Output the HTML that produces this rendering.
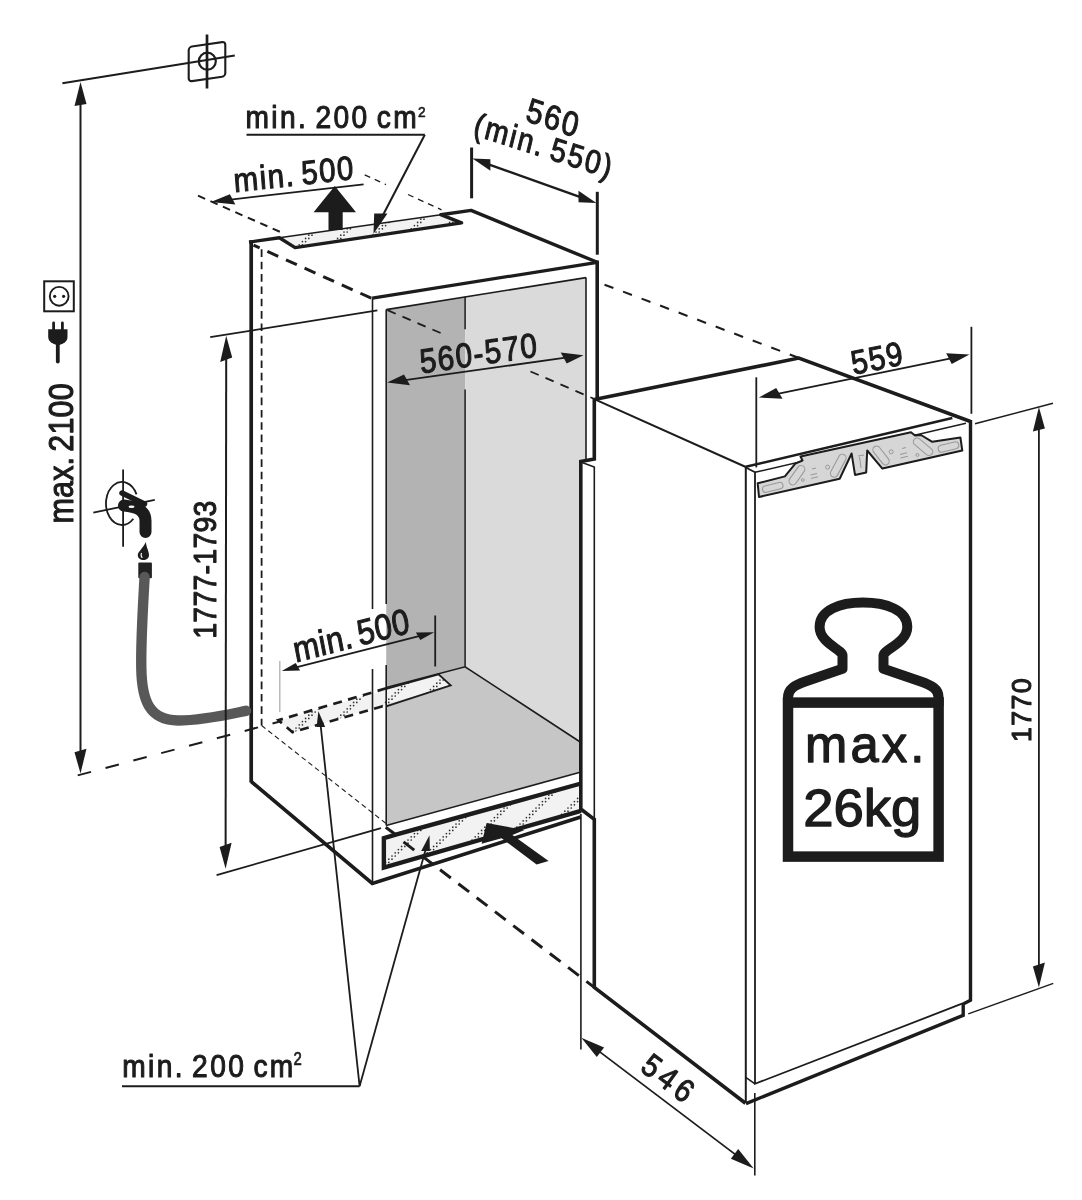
<!DOCTYPE html>
<html><head><meta charset="utf-8"><title>Installation diagram</title>
<style>
html,body{margin:0;padding:0;background:#fff;}
svg{display:block;filter:grayscale(1);}
text{font-family:"Liberation Sans", sans-serif; fill:#1c1c1c;}
</style></head>
<body>
<svg width="1082" height="1200" viewBox="0 0 1082 1200">
<defs>
<pattern id="dots" patternUnits="userSpaceOnUse" width="32" height="32">
<rect width="32" height="32" fill="#f2f2f2"/>
<g fill="#333"><circle cx="1.6" cy="30.4" r="0.85"/><circle cx="4.8" cy="30.4" r="0.85"/><circle cx="4.8" cy="27.2" r="0.85"/><circle cx="8.0" cy="27.2" r="0.85"/><circle cx="8.0" cy="24.0" r="0.85"/><circle cx="11.2" cy="24.0" r="0.85"/><circle cx="11.2" cy="20.8" r="0.85"/><circle cx="14.4" cy="20.8" r="0.85"/><circle cx="14.4" cy="17.6" r="0.85"/><circle cx="17.6" cy="17.6" r="0.85"/><circle cx="17.6" cy="14.4" r="0.85"/><circle cx="20.8" cy="14.4" r="0.85"/><circle cx="20.8" cy="11.2" r="0.85"/><circle cx="24.0" cy="11.2" r="0.85"/><circle cx="24.0" cy="8.0" r="0.85"/><circle cx="27.2" cy="8.0" r="0.85"/><circle cx="27.2" cy="4.8" r="0.85"/><circle cx="30.4" cy="4.8" r="0.85"/><circle cx="30.4" cy="1.6" r="0.85"/><circle cx="1.6" cy="1.6" r="0.85"/></g>
</pattern>
</defs>
<rect x="0" y="0" width="1082" height="1200" fill="#fff"/>
<polygon points="386.4,309.6 465.1,296.9 465.1,666.8 386.2,687.5" fill="#b3b3b3" stroke="none" stroke-width="0" stroke-linejoin="miter"/>
<polygon points="465.1,296.9 586,277.6 586,462 581,462 581,742.5 465.1,666.8" fill="#dadada" stroke="none" stroke-width="0" stroke-linejoin="miter"/>
<polygon points="386.2,687.5 465.1,666.8 581,742.5 581,772 386.2,825.6" fill="#c6c6c6" stroke="none" stroke-width="0" stroke-linejoin="miter"/>
<polygon points="581,462 586,462 586,742.5 581,742.5" fill="#dadada" stroke="none" stroke-width="0" stroke-linejoin="miter"/>
<polygon points="279.4,237.8 440.8,214.7 461.6,222.9 295.1,247.6" fill="url(#dots)" stroke="none" stroke-width="0" stroke-linejoin="miter"/>
<polygon points="279,720.5 438.5,674.3 450.7,685.4 292.5,732.5" fill="url(#dots)" stroke="none" stroke-width="0" stroke-linejoin="miter"/>
<polygon points="383.8,837 580.8,783.5 580.8,810.5 383.8,866.5" fill="url(#dots)" stroke="none" stroke-width="0" stroke-linejoin="miter"/>
<g>
<line x1="251.2" y1="240.3" x2="251.2" y2="782.5" stroke="#1c1c1c" stroke-width="3.7" stroke-linecap="butt"/>
<path d="M251.2 781.5 L372.3 883.5 L580.8 817" fill="none" stroke="#1c1c1c" stroke-width="3.6" stroke-linecap="butt" stroke-linejoin="miter"/>
<path d="M249 242.1 L279.4 237.8 L295.1 247.6 L461.6 222.9 L440.8 214.7 L471.1 210.4 L597.3 262.3" fill="none" stroke="#1c1c1c" stroke-width="3.4" stroke-linecap="butt" stroke-linejoin="round"/>
<line x1="279.4" y1="237.8" x2="440.8" y2="214.7" stroke="#1c1c1c" stroke-width="1.6" stroke-linecap="butt"/>
<line x1="372.3" y1="298.2" x2="597.3" y2="262.3" stroke="#1c1c1c" stroke-width="3.2" stroke-linecap="butt"/>
<line x1="597.2" y1="260.5" x2="597.2" y2="399" stroke="#1c1c1c" stroke-width="3.6" stroke-linecap="butt"/>
<line x1="372.5" y1="297.5" x2="372.5" y2="609" stroke="#1c1c1c" stroke-width="1.6" stroke-linecap="butt"/>
<line x1="372.5" y1="669" x2="372.5" y2="883.5" stroke="#1c1c1c" stroke-width="1.6" stroke-linecap="butt"/>
<line x1="386.2" y1="309.6" x2="386.2" y2="604" stroke="#1c1c1c" stroke-width="1.6" stroke-linecap="butt"/>
<line x1="386.2" y1="665" x2="386.2" y2="825.6" stroke="#1c1c1c" stroke-width="1.6" stroke-linecap="butt"/>
<line x1="386.2" y1="309.6" x2="586" y2="277.6" stroke="#1c1c1c" stroke-width="1.6" stroke-linecap="butt"/>
<line x1="586" y1="277.6" x2="586" y2="462" stroke="#1c1c1c" stroke-width="1.6" stroke-linecap="butt"/>
<line x1="465.1" y1="296.8" x2="465.1" y2="329.3" stroke="#1c1c1c" stroke-width="1.5" stroke-linecap="butt"/>
<line x1="465.1" y1="389.4" x2="465.1" y2="666.7" stroke="#1c1c1c" stroke-width="1.5" stroke-linecap="butt"/>
<path d="M386.2 687.5 L465.1 666.8 L581 742.5" fill="none" stroke="#1c1c1c" stroke-width="1.6" stroke-linecap="butt" stroke-linejoin="miter"/>
<line x1="386.2" y1="825.6" x2="581" y2="772" stroke="#1c1c1c" stroke-width="1.6" stroke-linecap="butt"/>
<path d="M385.7 827.2 L395.8 834.7" fill="none" stroke="#1c1c1c" stroke-width="3" stroke-linecap="butt" stroke-linejoin="miter"/>
<path d="M581 783.5 L395.8 834.7 L383.85 838.2 L383.85 867.6 L581 810.8" fill="none" stroke="#1c1c1c" stroke-width="4.4" stroke-linecap="butt" stroke-linejoin="miter"/>
<line x1="261.6" y1="249" x2="261.6" y2="725.5" stroke="#1c1c1c" stroke-width="1.8" stroke-linecap="butt" stroke-dasharray="7.6 4.75" stroke-dashoffset="12"/>
<line x1="253.5" y1="245.2" x2="372.3" y2="298.6" stroke="#1c1c1c" stroke-width="3" stroke-linecap="butt" stroke-dasharray="11.9 8.5" stroke-dashoffset="5.2"/>
<line x1="387.5" y1="310.2" x2="447" y2="335.8" stroke="#1c1c1c" stroke-width="1.8" stroke-linecap="butt" stroke-dasharray="8.9 7.4"/>
<line x1="530.5" y1="371.5" x2="594.5" y2="399" stroke="#1c1c1c" stroke-width="1.8" stroke-linecap="butt" stroke-dasharray="8.9 7.4"/>
<line x1="597.5" y1="282" x2="798.5" y2="357.8" stroke="#1c1c1c" stroke-width="2.1" stroke-linecap="butt" stroke-dasharray="9.5 10.3" stroke-dashoffset="12.3"/>
<line x1="261.6" y1="725.5" x2="386" y2="823.5" stroke="#1c1c1c" stroke-width="1.1" stroke-linecap="butt" stroke-dasharray="5 3.5"/>
<line x1="403.5" y1="841.9" x2="594.3" y2="987.4" stroke="#1c1c1c" stroke-width="3" stroke-linecap="butt" stroke-dasharray="13.5 9.5"/>
<path d="M386.2 688.8 L438.5 674.3 L450.7 685.4 L386.2 706.3" fill="none" stroke="#1c1c1c" stroke-width="1.8" stroke-linecap="butt" stroke-linejoin="miter"/>
<path d="M386.2 688.3 L278.5 720.2 L292.5 732.2 L386.2 705.3" fill="none" stroke="#1c1c1c" stroke-width="2.7" stroke-linecap="butt" stroke-linejoin="miter" stroke-dasharray="9 6.4"/>
</g>
<polygon points="594.3,399 798.8,358.1 970.5,421.5 971.5,1000.3 963.2,1004 963.2,1015.3 746,1103.6 594.3,987.4 594.3,819.4 580.8,809 580.8,461.6 594.3,458.5" fill="#ffffff" stroke="none" stroke-width="0" stroke-linejoin="miter"/>
<path d="M594.3 399.5 L798.8 358.1 L970.5 421.5" fill="none" stroke="#1c1c1c" stroke-width="3.6" stroke-linecap="butt" stroke-linejoin="miter"/>
<line x1="594.3" y1="399.2" x2="745.8" y2="467" stroke="#1c1c1c" stroke-width="2" stroke-linecap="butt"/>
<line x1="745.8" y1="466.8" x2="952.3" y2="418.1" stroke="#1c1c1c" stroke-width="2.6" stroke-linecap="butt"/>
<path d="M594.3 399 L594.3 459 L580.8 461.6 L580.8 809 L594.3 819.4 L594.3 987.4 L745.5 1103.2" fill="none" stroke="#1c1c1c" stroke-width="3.6" stroke-linecap="butt" stroke-linejoin="miter"/>
<line x1="594.3" y1="466.5" x2="594.3" y2="819.4" stroke="#1c1c1c" stroke-width="1.6" stroke-linecap="butt"/>
<path d="M582 462.5 L594.3 467" fill="none" stroke="#1c1c1c" stroke-width="1.4" stroke-linecap="butt" stroke-linejoin="miter"/>
<path d="M970.5 420 L970.5 1000.3 L963.2 1004 L963.2 1015.3 L746 1103.6" fill="none" stroke="#1c1c1c" stroke-width="3.4" stroke-linecap="butt" stroke-linejoin="miter"/>
<line x1="745.8" y1="467" x2="745.8" y2="1103" stroke="#1c1c1c" stroke-width="2" stroke-linecap="butt"/>
<path d="M745.8 467.5 L755 472.3 L755 1083.8 L962 1003.7" fill="none" stroke="#1c1c1c" stroke-width="1.8" stroke-linecap="butt" stroke-linejoin="miter"/>
<path d="M745.8 1077.3 L755 1083.8" fill="none" stroke="#1c1c1c" stroke-width="1.6" stroke-linecap="butt" stroke-linejoin="miter"/>
<line x1="755" y1="472.3" x2="966" y2="423.2" stroke="#1c1c1c" stroke-width="1.4" stroke-linecap="butt"/>
<polygon points="759,497 757.7,483.3 784.9,476.4 795.3,463.7 802.5,460.5 800.5,456.5 911,432.3 915,435.5 921,435 932.3,441.8 960.4,437.5 962.3,450.6 882.4,468.6 867.2,450.5 866.2,472.4 855,474.9 851.6,453.5 839.7,478.7" fill="#d6d6d6" stroke="#1c1c1c" stroke-width="2" stroke-linejoin="round"/>
<rect x="-10.5" y="-3.2" width="21" height="6.5" rx="3.2" transform="translate(772.7 487.3) rotate(-14)" fill="none" stroke="#9a9a9a" stroke-width="1.1"/>
<rect x="-11" y="-3.8" width="22" height="7.5" rx="3.8" transform="translate(797 475.2) rotate(-55)" fill="none" stroke="#9a9a9a" stroke-width="1.1"/>
<rect x="-12.5" y="-3.8" width="25" height="7.5" rx="3.8" transform="translate(838.3 465.7) rotate(-62)" fill="none" stroke="#9a9a9a" stroke-width="1.1"/>
<rect x="-11" y="-3.8" width="22" height="7.5" rx="3.8" transform="translate(881 455.5) rotate(52)" fill="none" stroke="#9a9a9a" stroke-width="1.1"/>
<rect x="-11.5" y="-3.8" width="23" height="7.5" rx="3.8" transform="translate(923 446.8) rotate(40)" fill="none" stroke="#9a9a9a" stroke-width="1.1"/>
<rect x="-10.5" y="-3.5" width="21" height="7" rx="3.5" transform="translate(948.5 447) rotate(-14)" fill="none" stroke="#9a9a9a" stroke-width="1.1"/>
<circle cx="802.8" cy="480" r="1.4" fill="none" stroke="#9a9a9a" stroke-width="1"/>
<circle cx="827.6" cy="467.1" r="2" fill="none" stroke="#9a9a9a" stroke-width="1"/>
<circle cx="891.2" cy="451.8" r="2" fill="none" stroke="#9a9a9a" stroke-width="1"/>
<circle cx="917.4" cy="454.9" r="1.5" fill="none" stroke="#9a9a9a" stroke-width="1"/>
<path d="M811 478.5 L818 476.8 M810.5 475 L817 473.5 M812 469 L816 468 M900.5 458 L908 456.2 M900 454.5 L907 452.8 M902 448.5 L906 447.5 M858 456 L864 455 M859.5 457 L861 468" stroke="#9a9a9a" stroke-width="1.1" fill="none"/>
<path d="M788 706 L788 697.5 C788 689, 794 685.5, 806 681.3 L842.5 668.8 L842.5 655.5 C842.5 649.5, 819.6 643, 819.6 627 C819.6 610, 840 602.5, 863 602.5 C886 602.5, 907.3 610, 907.3 627 C907.3 643, 883.5 649.5, 883.5 655.5 L883.5 668.8 L920 681.3 C932 685.5, 938.6 689, 938.6 697.5 L938.6 706" fill="none" stroke="#1c1c1c" stroke-width="10" stroke-linecap="butt" stroke-linejoin="round"/>
<rect x="788" y="702.6" width="150.6" height="154" fill="none" stroke="#1c1c1c" stroke-width="10.5"/>
<line x1="62.4" y1="83.3" x2="234.8" y2="55.4" stroke="#1c1c1c" stroke-width="2" stroke-linecap="butt"/>
<rect x="-18.3" y="-17.3" width="36.6" height="34.6" rx="3.2" transform="translate(207 61.6) skewY(-8.3)" fill="none" stroke="#1c1c1c" stroke-width="2.1"/>
<line x1="207" y1="34.5" x2="207" y2="88.5" stroke="#1c1c1c" stroke-width="2.7" stroke-linecap="butt"/>
<circle cx="207.3" cy="61.2" r="8.5" fill="none" stroke="#1c1c1c" stroke-width="2.2"/>
<line x1="80.5" y1="103" x2="80.5" y2="752.5" stroke="#1c1c1c" stroke-width="2" stroke-linecap="butt"/>
<polygon points="80.5,82 86.5,104 74.5,106" fill="#1c1c1c" stroke="none" stroke-width="0" stroke-linejoin="miter"/>
<polygon points="80.5,773.5 86.5,748.8 74.5,752.2" fill="#1c1c1c" stroke="none" stroke-width="0" stroke-linejoin="miter"/>
<line x1="77.7" y1="775.4" x2="280" y2="721.5" stroke="#1c1c1c" stroke-width="2" stroke-linecap="butt" stroke-dasharray="13.8 15"/>
<rect x="44.2" y="281.3" width="29.6" height="30" fill="none" stroke="#1c1c1c" stroke-width="2"/>
<circle cx="59.2" cy="296.3" r="9.4" fill="none" stroke="#1c1c1c" stroke-width="1.9"/>
<circle cx="54.7" cy="296.3" r="1.6" fill="#1c1c1c"/>
<circle cx="63.6" cy="296.3" r="1.6" fill="#1c1c1c"/>
<path d="M53.6 323 L53.6 331 M62.4 323 L62.4 331" stroke="#1c1c1c" stroke-width="2.8" stroke-linecap="round"/>
<path d="M48.2 329.2 L67.5 329.2 L67.5 337 Q67.5 341 63 343.5 L59.5 345 L56.5 345 L53 343.5 Q48.2 341 48.2 337 Z" fill="#1c1c1c"/>
<path d="M57.8 344 L57.8 361.5" stroke="#1c1c1c" stroke-width="3.8" stroke-linecap="round"/>
<line x1="123.1" y1="469.5" x2="123.1" y2="546.7" stroke="#1c1c1c" stroke-width="1.8" stroke-linecap="butt"/>
<line x1="93.3" y1="512.6" x2="154.8" y2="499.9" stroke="#1c1c1c" stroke-width="1.8" stroke-linecap="butt"/>
<path d="M136.5 494.4 A16 21.5 0 1 0 133.3 518.7" fill="none" stroke="#1c1c1c" stroke-width="1.8"/>
<path d="M122 493 L144.5 504" stroke="#1c1c1c" stroke-width="5.5" stroke-linecap="round"/>
<path d="M124 505.5 C136 506.5, 145.5 510, 145.5 521 L145.5 532" fill="none" stroke="#1c1c1c" stroke-width="12" stroke-linecap="round"/>
<ellipse cx="131.5" cy="506.8" rx="3" ry="1.3" fill="#fff"/>
<path d="M145.8 542 C143 548, 137.8 552, 137.8 555 C137.8 558.5, 140.5 560, 143.4 560 C146.5 560, 149 558.5, 149 555 C149 551, 146.5 548, 145.8 542 Z" fill="#1c1c1c"/>
<path d="M141.5 553 C140.8 555, 141 557, 142.5 557.5" fill="none" stroke="#fff" stroke-width="1.2"/>
<rect x="138.3" y="562.4" width="13.6" height="15.8" rx="1" fill="#222"/>
<path d="M144.6 577 C142.8 610, 140.8 640, 141.3 668 C141.8 700, 149 720.2, 178 720.5 C203 720.5, 228 714.5, 246 710.8" fill="none" stroke="#585858" stroke-width="10.4" stroke-linecap="round" stroke-linejoin="round"/>
<line x1="226.2" y1="357.8" x2="225.6" y2="846.8" stroke="#1c1c1c" stroke-width="2" stroke-linecap="butt"/>
<polygon points="226.2,335.8 232.2,357.6 220.2,362" fill="#1c1c1c" stroke="none" stroke-width="0" stroke-linejoin="miter"/>
<polygon points="225.6,868.8 231.6,842.7 219.6,846.9" fill="#1c1c1c" stroke="none" stroke-width="0" stroke-linejoin="miter"/>
<line x1="210.2" y1="337.2" x2="377.4" y2="310.4" stroke="#1c1c1c" stroke-width="1.8" stroke-linecap="butt"/>
<line x1="216.6" y1="875.1" x2="381" y2="828.2" stroke="#1c1c1c" stroke-width="1.8" stroke-linecap="butt"/>
<line x1="230.7" y1="199.6" x2="363.6" y2="184.3" stroke="#1c1c1c" stroke-width="1.8" stroke-linecap="butt"/>
<polygon points="210.8,201.9 235.4,204.5 229.9,194.3" fill="#1c1c1c" stroke="none" stroke-width="0" stroke-linejoin="miter"/>
<line x1="198" y1="195.7" x2="279.9" y2="231.8" stroke="#1c1c1c" stroke-width="2" stroke-linecap="butt" stroke-dasharray="7.8 5.8"/>
<line x1="364.7" y1="174.9" x2="386" y2="184.6" stroke="#1c1c1c" stroke-width="1.3" stroke-linecap="butt" stroke-dasharray="6 5"/>
<line x1="408" y1="194.5" x2="441.5" y2="209.8" stroke="#1c1c1c" stroke-width="1.3" stroke-linecap="butt" stroke-dasharray="6 5"/>
<polygon points="334.8,186.1 356,212.3 342.7,212.3 342.7,230 328.5,230 328.5,212.3 313.6,212.3" fill="#1c1c1c" stroke="none" stroke-width="0" stroke-linejoin="miter"/>
<line x1="246.5" y1="134.8" x2="424.8" y2="134.8" stroke="#1c1c1c" stroke-width="2" stroke-linecap="butt"/>
<line x1="424.8" y1="134.8" x2="382.5" y2="216" stroke="#1c1c1c" stroke-width="2" stroke-linecap="butt"/>
<polygon points="373.5,233.8 374.2,213.5 387.5,213.5" fill="#1c1c1c" stroke="none" stroke-width="0" stroke-linejoin="miter"/>
<line x1="471.6" y1="147.5" x2="471.6" y2="198.3" stroke="#1c1c1c" stroke-width="3" stroke-linecap="butt"/>
<line x1="597.3" y1="191.8" x2="597.3" y2="254.7" stroke="#1c1c1c" stroke-width="3" stroke-linecap="butt"/>
<line x1="488.5" y1="164.3" x2="580.4" y2="197.2" stroke="#1c1c1c" stroke-width="2.4" stroke-linecap="butt"/>
<polygon points="472.5,158.6 490.4,170.8 490.4,159.2" fill="#1c1c1c" stroke="none" stroke-width="0" stroke-linejoin="miter"/>
<polygon points="596.4,202.9 578.5,202.3 578.5,190.7" fill="#1c1c1c" stroke="none" stroke-width="0" stroke-linejoin="miter"/>
<line x1="405" y1="380.1" x2="565.7" y2="357.7" stroke="#1c1c1c" stroke-width="1.8" stroke-linecap="butt"/>
<polygon points="387.2,382.6 410,385.3 404,374.4" fill="#1c1c1c" stroke="none" stroke-width="0" stroke-linejoin="miter"/>
<polygon points="583.5,355.2 566.7,363.4 560.7,352.5" fill="#1c1c1c" stroke="none" stroke-width="0" stroke-linejoin="miter"/>
<line x1="756.3" y1="377.3" x2="756.3" y2="467.4" stroke="#1c1c1c" stroke-width="1.8" stroke-linecap="butt"/>
<line x1="971.4" y1="326.8" x2="971.4" y2="413.8" stroke="#1c1c1c" stroke-width="1.8" stroke-linecap="butt"/>
<line x1="777.4" y1="393.8" x2="950.9" y2="358.3" stroke="#1c1c1c" stroke-width="1.8" stroke-linecap="butt"/>
<polygon points="758.8,397.6 782.5,398.7 776.2,388.1" fill="#1c1c1c" stroke="none" stroke-width="0" stroke-linejoin="miter"/>
<polygon points="969.5,354.5 951.7,364.1 946.2,353.3" fill="#1c1c1c" stroke="none" stroke-width="0" stroke-linejoin="miter"/>
<line x1="1038.9" y1="428" x2="1038.9" y2="966.5" stroke="#1c1c1c" stroke-width="1.8" stroke-linecap="butt"/>
<polygon points="1038.9,407 1044.9,428.4 1032.9,431.6" fill="#1c1c1c" stroke="none" stroke-width="0" stroke-linejoin="miter"/>
<polygon points="1038.9,987.5 1044.9,962.4 1032.9,966.6" fill="#1c1c1c" stroke="none" stroke-width="0" stroke-linejoin="miter"/>
<line x1="975" y1="423.8" x2="1053" y2="403.3" stroke="#1c1c1c" stroke-width="1.6" stroke-linecap="butt"/>
<line x1="968.3" y1="1013.8" x2="1053.3" y2="983.3" stroke="#1c1c1c" stroke-width="1.4" stroke-linecap="butt"/>
<line x1="580.9" y1="814" x2="580.9" y2="1049.4" stroke="#1c1c1c" stroke-width="1.6" stroke-linecap="butt"/>
<line x1="754.8" y1="1093" x2="754.8" y2="1175.4" stroke="#1c1c1c" stroke-width="1.6" stroke-linecap="butt"/>
<line x1="598.8" y1="1051.1" x2="736.2" y2="1155.1" stroke="#1c1c1c" stroke-width="1.8" stroke-linecap="butt"/>
<polygon points="581.3,1037.8 604.1,1047.5 596.8,1057.1" fill="#1c1c1c" stroke="none" stroke-width="0" stroke-linejoin="miter"/>
<polygon points="753.7,1168.4 730.9,1158.7 738.2,1149.1" fill="#1c1c1c" stroke="none" stroke-width="0" stroke-linejoin="miter"/>
<line x1="296" y1="667.3" x2="420" y2="635.8" stroke="#1c1c1c" stroke-width="1.8" stroke-linecap="butt"/>
<polygon points="281.8,670.9 300.1,670.6 295.7,663" fill="#1c1c1c" stroke="none" stroke-width="0" stroke-linejoin="miter"/>
<polygon points="434.2,632.2 420.3,640.1 415.9,632.5" fill="#1c1c1c" stroke="none" stroke-width="0" stroke-linejoin="miter"/>
<line x1="279.8" y1="661" x2="279.8" y2="712" stroke="#b0b0b0" stroke-width="1.3" stroke-linecap="butt"/>
<line x1="435.2" y1="615.5" x2="435.2" y2="666.5" stroke="#1c1c1c" stroke-width="1.8" stroke-linecap="butt"/>
<polygon points="318.4,711.2 316.6,727 325.2,727" fill="#1c1c1c" stroke="none" stroke-width="0" stroke-linejoin="miter"/>
<polygon points="486.6,822.9 481.6,843.7 501.6,838.3 536.6,864.5 548.6,861.1 512.4,835 524.5,830" fill="#1c1c1c" stroke="none" stroke-width="0" stroke-linejoin="miter"/>
<line x1="122" y1="1086.2" x2="359.6" y2="1086.2" stroke="#1c1c1c" stroke-width="2" stroke-linecap="butt"/>
<line x1="359.6" y1="1086.2" x2="320.6" y2="725" stroke="#1c1c1c" stroke-width="1.8" stroke-linecap="butt"/>
<line x1="359.6" y1="1086.2" x2="425.8" y2="849" stroke="#1c1c1c" stroke-width="1.8" stroke-linecap="butt"/>
<polygon points="429.5,835.3 421.2,851 429.9,851" fill="#1c1c1c" stroke="none" stroke-width="0" stroke-linejoin="miter"/>
<text transform="matrix(0.88000 0.00000 -0.00000 1.00000 245.50 128.20)" font-size="31.98" text-anchor="start" textLength="194.46" lengthAdjust="spacing" fill="#1c1c1c" stroke="#1c1c1c" stroke-width="1.1" stroke-linejoin="round">min. 200 cm</text>
<text transform="matrix(0.88000 0.00000 -0.00000 1.00000 122.20 1076.90)" font-size="31.99" text-anchor="start" textLength="194.44" lengthAdjust="spacing" fill="#1c1c1c" stroke="#1c1c1c" stroke-width="1.1" stroke-linejoin="round">min. 200 cm</text>
<text transform="matrix(0.00000 -0.88000 1.00000 0.00000 73.00 523.50)" font-size="34.69" text-anchor="start" textLength="159.22" lengthAdjust="spacing" fill="#1c1c1c" stroke="#1c1c1c" stroke-width="1.1" stroke-linejoin="round">max. 2100</text>
<text transform="matrix(0.00000 -0.88000 1.00000 0.00000 215.50 638.70)" font-size="32.26" text-anchor="start" textLength="156.93" lengthAdjust="spacing" fill="#1c1c1c" stroke="#1c1c1c" stroke-width="1.1" stroke-linejoin="round">1777-1793</text>
<text transform="matrix(0.00000 -0.96000 1.00000 0.00000 1031.30 742.00)" font-size="27.91" text-anchor="start" textLength="66.39" lengthAdjust="spacing" fill="#1c1c1c" stroke="#1c1c1c" stroke-width="1.1" stroke-linejoin="round">1770</text>
<text transform="matrix(0.87469 -0.09657 0.07846 0.99692 234.50 192.20)" font-size="33.49" text-anchor="start" textLength="136.61" lengthAdjust="spacing" fill="#1c1c1c" stroke="#1c1c1c" stroke-width="1.1" stroke-linejoin="round">min. 500</text>
<text transform="matrix(0.83452 0.27923 -0.24192 0.97030 550.00 129.00)" font-size="34.13" text-anchor="middle" textLength="60.97" lengthAdjust="spacing" fill="#1c1c1c" stroke="#1c1c1c" stroke-width="1.1" stroke-linejoin="round">560</text>
<text transform="matrix(0.83787 0.26901 -0.24192 0.97030 540.50 156.50)" font-size="32.48" text-anchor="middle" textLength="162.94" lengthAdjust="spacing" fill="#1c1c1c" stroke="#1c1c1c" stroke-width="1.1" stroke-linejoin="round">(min. 550)</text>
<text transform="matrix(0.87078 -0.12703 0.10453 0.99452 479.50 365.00)" font-size="34.04" text-anchor="middle" textLength="134.33" lengthAdjust="spacing" fill="#1c1c1c" stroke="#1c1c1c" stroke-width="1.1" stroke-linejoin="round">560-570</text>
<text transform="matrix(0.86233 -0.17544 0.19081 0.98163 879.00 369.50)" font-size="33.68" text-anchor="middle" textLength="59.18" lengthAdjust="spacing" fill="#1c1c1c" stroke="#1c1c1c" stroke-width="1.1" stroke-linejoin="round">559</text>
<text transform="matrix(0.85120 -0.22331 0.19081 0.98163 295.80 662.50)" font-size="35.63" text-anchor="start" textLength="135.37" lengthAdjust="spacing" fill="#1c1c1c" stroke="#1c1c1c" stroke-width="1.1" stroke-linejoin="round">min. 500</text>
<text transform="matrix(0.70280 0.52960 -0.58779 0.80902 661.50 1087.00)" font-size="32.10" text-anchor="middle" textLength="64.03" lengthAdjust="spacing" fill="#1c1c1c" stroke="#1c1c1c" stroke-width="1.1" stroke-linejoin="round">546</text>
<text transform="matrix(1.00000 0.00000 -0.00000 1.00000 418.00 116.50)" font-size="15.54" text-anchor="start" textLength="7.60" lengthAdjust="spacingAndGlyphs" fill="#1c1c1c" stroke="#1c1c1c" stroke-width="0.7" stroke-linejoin="round">2</text>
<text transform="matrix(1.00000 0.00000 -0.00000 1.00000 293.50 1064.50)" font-size="17.61" text-anchor="start" textLength="8.30" lengthAdjust="spacingAndGlyphs" fill="#1c1c1c" stroke="#1c1c1c" stroke-width="0.7" stroke-linejoin="round">2</text>
<text transform="matrix(0.97000 0.00000 -0.00000 1.00000 805.00 761.70)" font-size="52.35" text-anchor="start" textLength="123.02" lengthAdjust="spacing" fill="#1c1c1c" stroke="#1c1c1c" stroke-width="1.3" stroke-linejoin="round">max.</text>
<text transform="matrix(1.00000 0.00000 -0.00000 1.00000 803.25 826.10)" font-size="51.44" text-anchor="start" textLength="118.19" lengthAdjust="spacingAndGlyphs" fill="#1c1c1c" stroke="#1c1c1c" stroke-width="1.3" stroke-linejoin="round">26kg</text>
</svg>
</body></html>
